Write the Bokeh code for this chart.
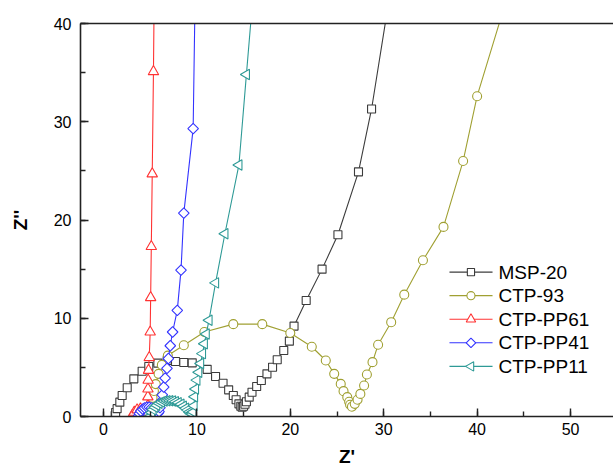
import math

from bokeh.core.properties import value
from bokeh.embed import file_html
from bokeh.models import FixedTicker, LinearAxis, Range1d, SingleIntervalTicker
from bokeh.plotting import figure
from bokeh.resources import INLINE

# Nyquist data: Z' (real part) and Z'' (minus imaginary part)
msp20_x = [1.25, 1.3, 1.46, 1.75, 2.0, 2.54, 3.25, 4.14, 4.85, 5.82, 6.82, 7.71, 8.6, 9.5,
           11.1, 12.0, 12.8, 13.4, 13.9, 14.2, 14.5, 14.7, 14.85, 15.0, 15.15, 15.3, 15.6,
           15.9, 16.4, 16.9, 17.5, 18.1, 18.6, 19.3, 19.9, 20.4, 21.7, 23.4, 25.1, 27.3,
           28.7, 30.5]
msp20_y = [0.1, 0.4, 0.8, 1.46, 2.14, 2.92, 3.83, 4.61, 5.09, 5.43, 5.7, 5.6, 5.5, 5.46,
           4.8, 4.07, 3.39, 2.71, 2.14, 1.7, 1.29, 1.05, 0.95, 1.05, 1.25, 1.5, 1.97,
           2.47, 3.05, 3.66, 4.34, 5.02, 5.77, 6.72, 7.67, 9.2, 11.8, 15.0, 18.5, 24.9,
           31.3, 42.0]

ctp93_x = [4.8, 4.95, 5.1, 5.25, 5.4, 5.6, 5.9, 6.25, 6.89, 8.6, 10.8, 13.9, 17.0, 20.0,
           22.3, 23.8, 24.7, 25.4, 25.7, 26.1, 26.3, 26.4, 26.6, 26.9, 27.2, 27.5, 27.9,
           28.2, 28.8, 29.4, 30.8, 32.2, 34.2, 36.4, 38.5, 40.0, 43.8]
ctp93_y = [0.3, 0.8, 1.3, 1.9, 2.6, 3.3, 4.34, 5.25, 6.2, 7.25, 8.6, 9.4, 9.4, 8.5,
           7.1, 5.7, 4.34, 3.32, 2.58, 1.97, 1.5, 1.2, 1.0, 1.29, 1.7, 2.3, 3.15,
           4.27, 5.53, 7.3, 9.6, 12.4, 15.9, 19.3, 26.0, 32.6, 44.5]

pp61_x = [3.07, 3.3, 3.6, 3.96, 4.3, 4.6, 4.75, 4.75, 4.76, 4.78, 4.82, 4.9, 5.0, 5.05,
          5.12, 5.22, 5.35, 5.5]
pp61_y = [0.1, 0.44, 0.68, 0.78, 0.68, 0.44, 1.1, 2.0, 2.8, 3.7, 4.7, 6.0, 8.6, 12.1,
          17.3, 24.7, 35.1, 50.0]

pp41_x = [3.75, 3.85, 4.0, 4.2, 4.4, 4.65, 4.9, 5.15, 5.35, 5.55, 5.7, 5.85, 5.95, 6.05,
          6.15, 6.3, 6.45, 6.6, 6.8, 6.95, 7.15, 7.4, 7.9, 8.3, 8.6, 9.6, 9.95]
pp41_y = [0.05, 0.3, 0.55, 0.75, 0.88, 0.95, 0.95, 0.88, 0.75, 0.6, 0.45, 0.35, 0.5, 0.9,
          1.5, 2.2, 3.0, 3.9, 4.9, 5.9, 7.2, 8.6, 10.8, 14.9, 20.7, 29.3, 52.0]

pp11_x = [5.05, 5.15, 5.3, 5.5, 5.7, 5.95, 6.2, 6.5, 6.8, 7.1, 7.4, 7.7, 8.0, 8.3, 8.55,
          8.8, 9.0, 9.2, 9.35, 9.5, 9.6, 9.7, 9.75, 9.85, 10.0, 10.2, 10.4, 10.6, 10.8,
          11.0, 11.3, 12.0, 13.0, 14.5, 15.3, 16.2]
pp11_y = [0.05, 0.4, 0.7, 0.95, 1.15, 1.35, 1.48, 1.57, 1.6, 1.6, 1.57, 1.5, 1.4, 1.25,
          1.05, 0.85, 0.65, 0.45, 0.3, 0.25, 0.45, 1.1, 2.0, 2.8, 3.7, 4.5, 5.4, 6.4, 7.4,
          8.4, 9.8, 13.6, 18.6, 25.6, 34.8, 45.0]

labels = ["MSP-20", "CTP-93", "CTP-PP61", "CTP-PP41", "CTP-PP11"]
colors = ["#3c3c3c", "#a0a032", "#ff3333", "#3333ff", "#2e9a96"]

FONT = "Liberation Sans"

p = figure(width=613, height=469, output_backend="svg", toolbar_location=None,
           x_range=Range1d(-2.46, 54.6), y_range=Range1d(0, 40),
           min_border_left=80, min_border_right=0, min_border_top=23,
           min_border_bottom=53)
p.grid.visible = False
p.outline_line_color = None
p.background_fill_color = "white"
p.border_fill_color = "white"

for ax in (p.xaxis, p.yaxis):
    ax.ticker = SingleIntervalTicker(interval=10, num_minor_ticks=2)
    ax.axis_line_width = 1.6
    ax.axis_line_color = "#222222"
    ax.major_tick_line_color = "#222222"
    ax.minor_tick_line_color = "#222222"
    ax.major_tick_line_width = 1.4
    ax.minor_tick_line_width = 1.4
    ax.major_tick_in = 8
    ax.major_tick_out = 0
    ax.minor_tick_in = 5
    ax.minor_tick_out = 0
    ax.major_label_text_font = FONT
    ax.major_label_text_font_size = "16px"
    ax.major_label_text_color = "black"
    ax.axis_label_text_font = FONT
    ax.axis_label_text_font_size = "19px"
    ax.axis_label_text_font_style = "bold"
    ax.axis_label_text_color = "black"

p.xaxis.axis_label = "Z'"
p.yaxis.axis_label = "Z''"
p.xaxis.major_label_standoff = 6
p.xaxis.axis_label_standoff = 8
p.yaxis.major_label_standoff = 9
p.yaxis.axis_label_standoff = 20

# top frame edge
top = LinearAxis(ticker=FixedTicker(ticks=[]), major_label_text_font_size="0px",
                 major_tick_in=0, major_tick_out=0, minor_tick_in=0, minor_tick_out=0,
                 axis_line_width=1.6, axis_line_color="#222222")
p.add_layout(top, "above")

markers = [
    dict(marker="square", size=8, angle=0.0),
    dict(marker="circle", size=9, angle=0.0),
    dict(marker="triangle", size=10.5, angle=0.0),
    dict(marker="square", size=7.5, angle=math.pi / 4),      # diamond
    dict(marker="triangle", size=10.5, angle=math.pi / 2),   # left-pointing triangle
]
data = [(msp20_x, msp20_y), (ctp93_x, ctp93_y), (pp61_x, pp61_y),
        (pp41_x, pp41_y), (pp11_x, pp11_y)]

for (xs, ys), mk, col in zip(data, markers, colors):
    p.line(xs, ys, line_color=col, line_width=1.1)
    p.scatter(xs, ys, line_color=col, line_width=1.1, fill_color="white", **mk)

# key: line sample, marker and name for each series (data units of the frame)
key_x0, key_x1, key_xm, key_xt = 37.04, 41.65, 39.34, 42.29
key_rows = [14.69, 12.3, 9.9, 7.5, 5.1]
for name, col, mk, ky in zip(labels, colors, markers, key_rows):
    p.line([key_x0, key_x1], [ky, ky], line_color=col, line_width=1.1)
    p.scatter([key_xm], [ky], line_color=col, line_width=1.1, fill_color="white",
              marker=mk["marker"], size=mk["size"] * 0.9, angle=mk["angle"])
    p.text([key_xt], [ky], text=[name], text_font=value(FONT), text_font_size="19px",
           text_baseline="middle", text_align="left", text_color="black")

open("out.html", "w").write(file_html(p, INLINE))
